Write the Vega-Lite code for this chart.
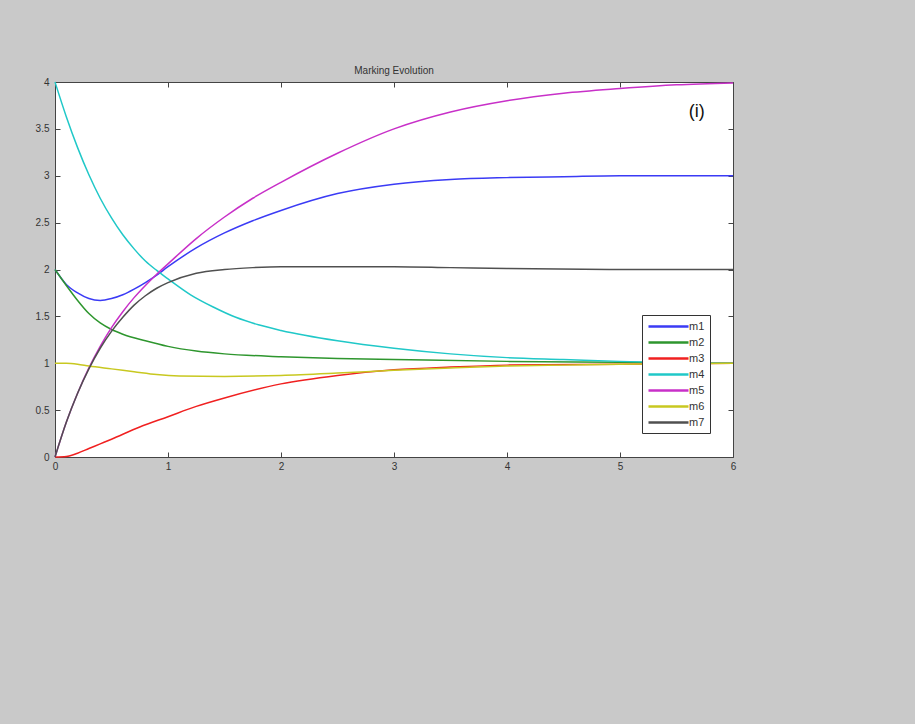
{
  "$schema": "https://vega.github.io/schema/vega-lite/v6.json",
  "width": 678,
  "height": 375,
  "autosize": {"type": "none"},
  "padding": {"left": 55, "top": 82, "right": 182, "bottom": 267},
  "background": "#c9c9c9",
  "title": {"text": "Marking Evolution", "fontSize": 10, "font": "Liberation Sans", "fontWeight": "normal", "color": "#333333", "offset": 1},
  "config": {
    "view": {"fill": "white", "stroke": "#444444", "strokeWidth": 1},
    "axis": {"grid": false, "domain": false, "tickColor": "#444444", "tickSize": -5, "labelFont": "Liberation Sans", "labelFontSize": 10, "labelColor": "#333333", "title": null, "labelFlush": false}
  },
  "layer": [
    {
      "data": {"values": [
        {"s":"m1","t":0,"v":2.0},{"s":"m1","t":0.1,"v":1.84},{"s":"m1","t":0.2,"v":1.75},{"s":"m1","t":0.3,"v":1.69},{"s":"m1","t":0.4,"v":1.67},{"s":"m1","t":0.5,"v":1.69},{"s":"m1","t":0.6,"v":1.73},{"s":"m1","t":0.7,"v":1.79},{"s":"m1","t":0.8,"v":1.86},{"s":"m1","t":0.9,"v":1.94},{"s":"m1","t":1.0,"v":2.03},{"s":"m1","t":1.25,"v":2.23},{"s":"m1","t":1.5,"v":2.39},{"s":"m1","t":1.75,"v":2.52},{"s":"m1","t":2.0,"v":2.63},{"s":"m1","t":2.5,"v":2.81},{"s":"m1","t":3.0,"v":2.91},{"s":"m1","t":3.5,"v":2.96},{"s":"m1","t":4.0,"v":2.98},{"s":"m1","t":4.5,"v":2.99},{"s":"m1","t":5.0,"v":3.0},{"s":"m1","t":6.0,"v":3.0},
        {"s":"m2","t":0,"v":2.0},{"s":"m2","t":0.1,"v":1.83},{"s":"m2","t":0.2,"v":1.67},{"s":"m2","t":0.3,"v":1.53},{"s":"m2","t":0.4,"v":1.43},{"s":"m2","t":0.5,"v":1.36},{"s":"m2","t":0.6,"v":1.31},{"s":"m2","t":0.8,"v":1.24},{"s":"m2","t":1.0,"v":1.18},{"s":"m2","t":1.25,"v":1.13},{"s":"m2","t":1.5,"v":1.1},{"s":"m2","t":2.0,"v":1.07},{"s":"m2","t":2.5,"v":1.05},{"s":"m2","t":3.0,"v":1.04},{"s":"m2","t":4.0,"v":1.02},{"s":"m2","t":5.0,"v":1.01},{"s":"m2","t":6.0,"v":1.0},
        {"s":"m3","t":0,"v":0},{"s":"m3","t":0.1,"v":0.005},{"s":"m3","t":0.2,"v":0.04},{"s":"m3","t":0.3,"v":0.09},{"s":"m3","t":0.4,"v":0.14},{"s":"m3","t":0.5,"v":0.19},{"s":"m3","t":0.75,"v":0.32},{"s":"m3","t":1.0,"v":0.43},{"s":"m3","t":1.25,"v":0.54},{"s":"m3","t":1.5,"v":0.63},{"s":"m3","t":2.0,"v":0.78},{"s":"m3","t":2.5,"v":0.87},{"s":"m3","t":3.0,"v":0.93},{"s":"m3","t":3.5,"v":0.96},{"s":"m3","t":4.0,"v":0.98},{"s":"m3","t":5.0,"v":0.99},{"s":"m3","t":6.0,"v":1.0},
        {"s":"m4","t":0,"v":4.0},{"s":"m4","t":0.1,"v":3.63},{"s":"m4","t":0.2,"v":3.3},{"s":"m4","t":0.3,"v":3.01},{"s":"m4","t":0.4,"v":2.76},{"s":"m4","t":0.5,"v":2.55},{"s":"m4","t":0.6,"v":2.37},{"s":"m4","t":0.7,"v":2.22},{"s":"m4","t":0.8,"v":2.09},{"s":"m4","t":0.9,"v":1.99},{"s":"m4","t":1.0,"v":1.9},{"s":"m4","t":1.2,"v":1.73},{"s":"m4","t":1.4,"v":1.6},{"s":"m4","t":1.6,"v":1.49},{"s":"m4","t":1.8,"v":1.41},{"s":"m4","t":2.0,"v":1.35},{"s":"m4","t":2.5,"v":1.24},{"s":"m4","t":3.0,"v":1.16},{"s":"m4","t":3.5,"v":1.1},{"s":"m4","t":4.0,"v":1.06},{"s":"m4","t":4.5,"v":1.04},{"s":"m4","t":5.0,"v":1.02},{"s":"m4","t":6.0,"v":1.0},
        {"s":"m5","t":0,"v":0},{"s":"m5","t":0.1,"v":0.37},{"s":"m5","t":0.2,"v":0.68},{"s":"m5","t":0.3,"v":0.95},{"s":"m5","t":0.4,"v":1.18},{"s":"m5","t":0.5,"v":1.38},{"s":"m5","t":0.6,"v":1.55},{"s":"m5","t":0.7,"v":1.7},{"s":"m5","t":0.8,"v":1.83},{"s":"m5","t":0.9,"v":1.95},{"s":"m5","t":1.0,"v":2.06},{"s":"m5","t":1.25,"v":2.33},{"s":"m5","t":1.5,"v":2.56},{"s":"m5","t":1.75,"v":2.76},{"s":"m5","t":2.0,"v":2.93},{"s":"m5","t":2.5,"v":3.24},{"s":"m5","t":3.0,"v":3.5},{"s":"m5","t":3.5,"v":3.68},{"s":"m5","t":4.0,"v":3.8},{"s":"m5","t":4.5,"v":3.88},{"s":"m5","t":5.0,"v":3.93},{"s":"m5","t":5.5,"v":3.97},{"s":"m5","t":6.0,"v":3.99},
        {"s":"m6","t":0,"v":1.0},{"s":"m6","t":0.1,"v":1.0},{"s":"m6","t":0.2,"v":0.99},{"s":"m6","t":0.3,"v":0.97},{"s":"m6","t":0.5,"v":0.94},{"s":"m6","t":0.7,"v":0.91},{"s":"m6","t":0.9,"v":0.88},{"s":"m6","t":1.1,"v":0.865},{"s":"m6","t":1.5,"v":0.86},{"s":"m6","t":2.0,"v":0.87},{"s":"m6","t":2.5,"v":0.895},{"s":"m6","t":3.0,"v":0.925},{"s":"m6","t":3.5,"v":0.95},{"s":"m6","t":4.0,"v":0.97},{"s":"m6","t":4.5,"v":0.98},{"s":"m6","t":5.0,"v":0.99},{"s":"m6","t":6.0,"v":1.0},
        {"s":"m7","t":0,"v":0},{"s":"m7","t":0.1,"v":0.37},{"s":"m7","t":0.2,"v":0.68},{"s":"m7","t":0.3,"v":0.94},{"s":"m7","t":0.4,"v":1.16},{"s":"m7","t":0.5,"v":1.34},{"s":"m7","t":0.6,"v":1.49},{"s":"m7","t":0.7,"v":1.62},{"s":"m7","t":0.8,"v":1.72},{"s":"m7","t":0.9,"v":1.8},{"s":"m7","t":1.0,"v":1.86},{"s":"m7","t":1.25,"v":1.96},{"s":"m7","t":1.5,"v":2.0},{"s":"m7","t":1.75,"v":2.02},{"s":"m7","t":2.0,"v":2.03},{"s":"m7","t":2.5,"v":2.03},{"s":"m7","t":3.0,"v":2.03},{"s":"m7","t":3.5,"v":2.02},{"s":"m7","t":4.0,"v":2.01},{"s":"m7","t":5.0,"v":2.0},{"s":"m7","t":6.0,"v":2.0}
      ]},
      "mark": {"type": "line", "interpolate": "monotone", "strokeWidth": 1.5},
      "encoding": {
        "x": {"field": "t", "type": "quantitative", "scale": {"domain": [0, 6], "nice": false}, "axis": {"orient": "bottom", "values": [0,1,2,3,4,5,6], "labelPadding": 9}},
        "y": {"field": "v", "type": "quantitative", "scale": {"domain": [0, 4], "nice": false}, "axis": {"orient": "left", "values": [0,0.5,1,1.5,2,2.5,3,3.5,4], "format": "~g", "labelPadding": 11}},
        "color": {"field": "s", "type": "nominal",
          "scale": {"domain": ["m1","m2","m3","m4","m5","m6","m7"], "range": ["#3b3bf5","#2e962e","#f02020","#20c8c8","#c830c8","#c8c820","#505050"]},
          "legend": {"title": null, "orient": "none", "legendX": 587, "legendY": 233, "strokeColor": "#333333", "fillColor": "white", "padding": 5, "symbolType": "M-4,0H4", "symbolSize": 100, "symbolStrokeWidth": 2.5, "symbolOffset": 15, "labelFont": "Liberation Sans", "labelFontSize": 11, "labelColor": "#333333", "labelOffset": 14, "rowPadding": 4, "cornerRadius": 0}}
      }
    },
    {
      "data": {"values": [{"t": 5.68, "v": 3.68, "label": "(i)"}]},
      "mark": {"type": "text", "fontSize": 18, "font": "Liberation Sans", "color": "#111111"},
      "encoding": {
        "x": {"field": "t", "type": "quantitative", "scale": {"domain": [0, 6], "nice": false}, "axis": {"orient": "top", "values": [0,1,2,3,4,5,6], "labels": false}},
        "y": {"field": "v", "type": "quantitative", "scale": {"domain": [0, 4], "nice": false}, "axis": {"orient": "right", "values": [0,0.5,1,1.5,2,2.5,3,3.5,4], "labels": false}},
        "text": {"field": "label"}
      }
    }
  ],
  "resolve": {"axis": {"x": "independent", "y": "independent"}}
}
